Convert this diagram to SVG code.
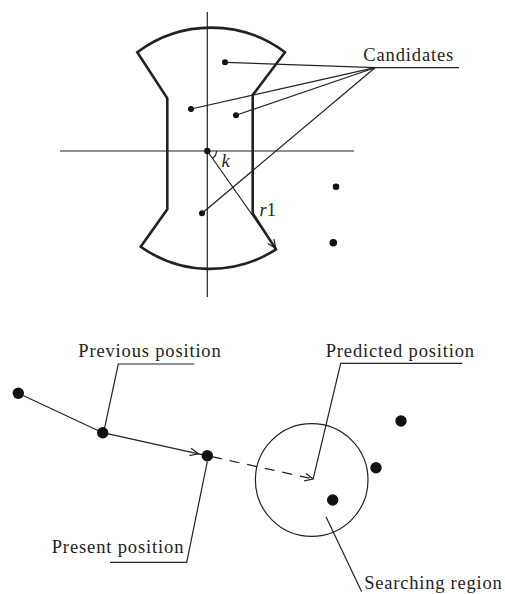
<svg xmlns="http://www.w3.org/2000/svg" width="505" height="594" viewBox="0 0 505 594">
<defs>
<marker id="arr" viewBox="-10 -5 12 10" markerWidth="12" markerHeight="10" refX="0" refY="0" orient="auto" markerUnits="userSpaceOnUse" overflow="visible">
<path d="M-8.5,-3.8 L0,0 L-8.5,3.8" fill="none" stroke="#222" stroke-width="1.2"/>
</marker>
<style>
.ln{stroke:#222;stroke-width:1.2;fill:none}
.thk{stroke:#222;stroke-width:2.6;fill:none;stroke-linejoin:miter}
.dot{fill:#111}
.t{font-family:"Liberation Serif","Times New Roman",serif;font-size:18.5px;fill:#222}
.it{font-style:italic}
</style>
</defs>
<rect width="505" height="594" fill="#fff"/>

<g id="axes">
<line class="ln" x1="207.3" y1="12" x2="207.3" y2="297"/>
<line class="ln" x1="60" y1="151" x2="354" y2="151"/>
</g>

<g id="search-shape">
<path class="thk" d="M137.3,52.3 A123,123 0 0 1 285,52.3 L252.7,95 L252.7,213.3 L276,249.3 A120,120 0 0 1 140.7,246.7 L167.3,209.3 L167.3,98.3 Z"/>
</g>

<g id="top-points">
<circle class="dot" cx="207.3" cy="151" r="3.2"/>
<circle class="dot" cx="225" cy="62.3" r="3"/>
<circle class="dot" cx="191" cy="109" r="3"/>
<circle class="dot" cx="236" cy="115.3" r="3"/>
<circle class="dot" cx="202" cy="213.3" r="3"/>
<circle class="dot" cx="336" cy="186.7" r="3.3"/>
<circle class="dot" cx="333.3" cy="242.7" r="3.8"/>
</g>

<g id="candidates-label">
<text class="t" x="363.3" y="61" textLength="90" lengthAdjust="spacing">Candidates</text>
<line class="ln" x1="372" y1="67.7" x2="459" y2="67.7"/>
</g>

<g id="k-label">
<path class="ln" d="M216.5,151 A9,9 0 0 1 212.5,158.4"/>
<text class="t it" x="221.5" y="166.5">k</text>
</g>

<g id="r1-label">
<text class="t" x="259.5" y="216"><tspan class="it">r</tspan>1</text>
</g>

<g id="connectors">
<line class="ln" x1="375" y1="67.7" x2="225" y2="62.3"/>
<line class="ln" x1="375" y1="67.7" x2="191" y2="109"/>
<line class="ln" x1="375" y1="67.7" x2="236" y2="115.3"/>
<line class="ln" x1="375" y1="67.7" x2="202" y2="213.3"/>
<line class="ln" x1="207.3" y1="151" x2="275.7" y2="248.3" marker-end="url(#arr)"/>

<line class="ln" x1="18.3" y1="393.3" x2="102.7" y2="432.7"/>
<line class="ln" x1="102.7" y1="432.7" x2="198.5" y2="453.8" marker-end="url(#arr)"/>
<line class="ln" x1="198.5" y1="453.8" x2="207.3" y2="455.7"/>
<line class="ln" x1="212" y1="456.7" x2="313.3" y2="479" stroke-dasharray="10 8" marker-end="url(#arr)"/>

<polyline class="ln" points="194.3,364 118.3,364 104.3,429.3"/>
<polyline class="ln" points="462.3,363.3 340.7,363.3 313.3,478.3"/>
<polyline class="ln" points="110,562.3 186.7,562.3 207.3,461.7"/>
<line class="ln" x1="326" y1="516.7" x2="361.7" y2="591.7"/>
</g>

<g id="search-region">
<circle class="ln" cx="311.7" cy="480" r="56.3"/>
</g>

<g id="bottom-points">
<circle class="dot" cx="18.3" cy="393.3" r="5.7"/>
<circle class="dot" cx="102.7" cy="432.7" r="5.7"/>
<circle class="dot" cx="207.3" cy="455.7" r="5.7"/>
<circle class="dot" cx="401" cy="421" r="5.7"/>
<circle class="dot" cx="376" cy="467.7" r="5.7"/>
<circle class="dot" cx="332.7" cy="500" r="5.7"/>
</g>

<g id="labels">
<text class="t" x="78.3" y="356.7" textLength="142.4" lengthAdjust="spacing">Previous position</text>
<text class="t" x="325.7" y="356.7" textLength="148.3" lengthAdjust="spacing">Predicted position</text>
<text class="t" x="51.7" y="553.3" textLength="131.7" lengthAdjust="spacing">Present position</text>
<text class="t" x="364.3" y="589.3" textLength="137.4" lengthAdjust="spacing">Searching region</text>
</g>
</svg>
